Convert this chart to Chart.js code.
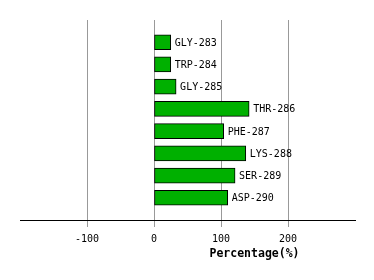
<!DOCTYPE html>
<html>
<head>
<meta charset="utf-8">
<script src="https://cdn.jsdelivr.net/npm/chart.js@4/dist/chart.umd.min.js"></script>
<style>
  html, body { margin: 0; padding: 0; background: #fff; }
  #wrap { width: 374px; height: 280px; }
</style>
</head>
<body>
<div id="wrap"><canvas id="c"></canvas></div>
<script>
const residues = ["GLY-283", "TRP-284", "GLY-285", "THR-286", "PHE-287", "LYS-288", "SER-289", "ASP-290"]
const percentages = [25, 25, 33, 142, 104, 137, 121, 110]
const xTicks = [-100, 0, 100, 200]
const xTitle = "Percentage(%)"

const font = "'DejaVu Sans Mono', monospace"

// empty slots above and below so the bars sit one step in from the plot edge
const labels = ["", ...residues, ""]
const values = [null, ...percentages, null]

const barLabels = {
  id: "barLabels",
  afterDatasetsDraw(chart) {
    const ctx = chart.ctx
    const meta = chart.getDatasetMeta(0)
    ctx.save()
    ctx.font = "10px " + font
    ctx.fillStyle = "#000"
    ctx.textBaseline = "middle"
    ctx.textAlign = "left"
    meta.data.forEach((bar, i) => {
      if (values[i] == null) return
      ctx.fillText(labels[i], bar.x + 4, bar.y + 1)
    })
    ctx.restore()
  }
}

const axisTitle = {
  id: "axisTitle",
  afterDraw(chart) {
    const ctx = chart.ctx
    const x = chart.scales.x
    ctx.save()
    ctx.font = "bold 11.5px " + font
    ctx.fillStyle = "#000"
    ctx.textAlign = "center"
    ctx.textBaseline = "middle"
    ctx.fillText(xTitle, x.getPixelForValue(150), 254)
    ctx.restore()
  }
}

new Chart(document.getElementById("c"), {
  type: "bar",
  data: {
    labels: labels,
    datasets: [{
      data: values,
      backgroundColor: "#00b000",
      borderColor: "#000",
      borderWidth: 1,
      borderSkipped: false,
      barThickness: 15
    }]
  },
  plugins: [barLabels, axisTitle],
  options: {
    indexAxis: "y",
    responsive: true,
    maintainAspectRatio: false,
    animation: false,
    layout: { padding: { left: 20, right: 19, top: 20, bottom: 0 } },
    plugins: { legend: { display: false }, tooltip: { enabled: false } },
    scales: {
      x: {
        min: -200,
        max: 300,
        afterBuildTicks(scale) { scale.ticks = xTicks.map(v => ({ value: v })) },
        afterFit(scale) { scale.height = 60 },
        grid: { color: "#999", tickLength: 7, drawOnChartArea: true },
        border: { color: "#000", width: 1 },
        ticks: { color: "#000", font: { family: font, size: 10 }, padding: 6, maxRotation: 0 }
      },
      y: {
        display: false,
        offset: false
      }
    }
  }
})
</script>
</body>
</html>
